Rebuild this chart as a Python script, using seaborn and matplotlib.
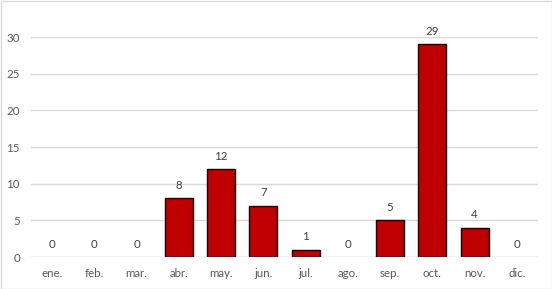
import matplotlib
matplotlib.use("Agg")
import matplotlib.pyplot as plt
import seaborn as sns
import pandas as pd
from matplotlib.patches import Rectangle

months = ["ene.", "feb.", "mar.", "abr.", "may.", "jun.", "jul.", "ago.", "sep.", "oct.", "nov.", "dic."]
values = [0, 0, 0, 8, 12, 7, 1, 0, 5, 29, 4, 0]
yticks = [0, 5, 10, 15, 20, 25, 30]

sns.set_theme(style="white")
plt.rcParams['font.family'] = ['Lato', 'DejaVu Sans']

df = pd.DataFrame({"mes": months, "n": values})
fig = plt.figure(figsize=(5.52, 2.89), dpi=100)
ax = fig.add_axes([31/552, 32/289, (538-31)/552, 220/289])
sns.barplot(data=df, x="mes", y="n", ax=ax, color="#C00000", width=0.66,
            edgecolor="black", linewidth=1.0, saturation=1)
for p, v in zip(ax.patches, values):
    if v == 0:
        p.set_linewidth(0)
ax.set_ylim(0, 30)
ax.set_xlim(-0.5, 11.5)
ax.set_yticks(yticks)
ax.yaxis.grid(True, color="#D9D9D9", linewidth=1)
ax.set_axisbelow(True)
for s in ax.spines.values():
    s.set_visible(False)
ax.axhline(0, color="#D9D9D9", linewidth=1, zorder=0)
ax.set_xlabel("")
ax.set_ylabel("")
ax.tick_params(axis="both", length=0, labelsize=8.3, colors="#595959")
ax.tick_params(axis="x", pad=8)
ax.tick_params(axis="y", pad=8)
for i, v in enumerate(values):
    ax.text(i, v + 1.0, str(v), ha="center", va="bottom", fontsize=8.3, color="#404040", clip_on=False)
fig.patches.append(Rectangle((0.5/552, 0.5/289), 551/552, 288/289, transform=fig.transFigure,
                             fill=False, edgecolor="#D9D9D9", linewidth=1))
fig.savefig("out.png", dpi=100)
